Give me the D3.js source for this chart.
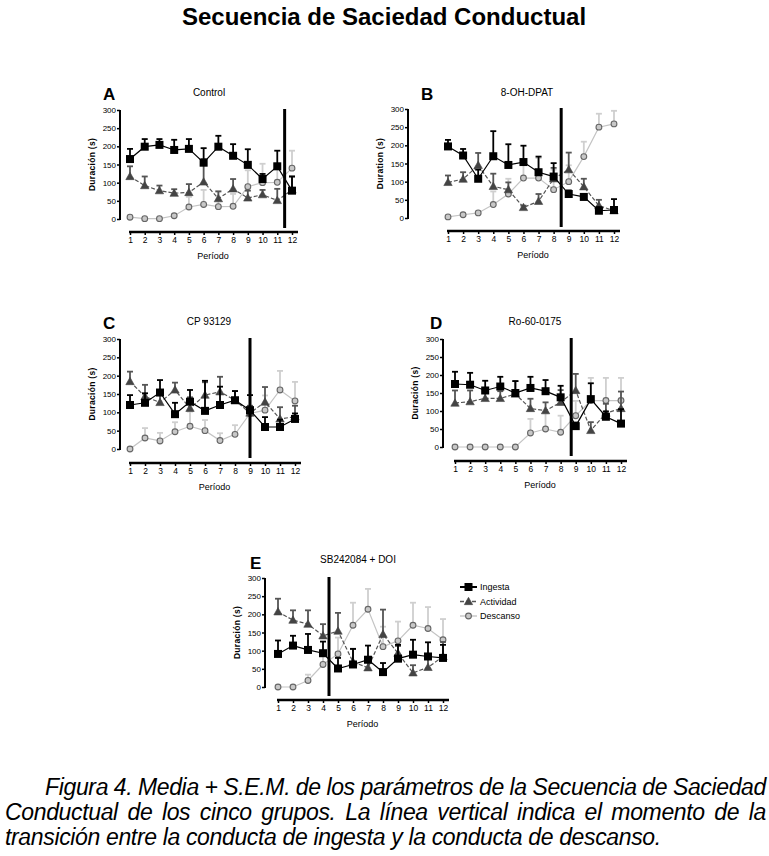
<!DOCTYPE html>
<html>
<head>
<meta charset="utf-8">
<script src="https://cdn.jsdelivr.net/npm/d3@7"></script>
<style>
  body { margin:0; background:#fff; }
  #wrap { position:relative; width:769px; height:856px; overflow:hidden; }
  svg { position:absolute; left:0; top:0; }
  .cap { position:absolute; font-family:"Liberation Sans Narrow","Arial Narrow","Liberation Sans",sans-serif; font-style:italic; font-size:23px; letter-spacing:-0.35px; line-height:25px; color:#000; white-space:nowrap; }
</style>
</head>
<body>
<div id="wrap"></div>
<script>
// ---------- DATA ----------
const periods = [1,2,3,4,5,6,7,8,9,10,11,12];
const seriesNames = ["Ingesta","Actividad","Descanso"];
const yTicks = [0,50,100,150,200,250,300];
const panelLetters = ["A","B","C","D","E"];
const panelTitles = ["Control","8-OH-DPAT","CP 93129","Ro-60-0175","SB242084 + DOI"];
const yLabels = ["Duración (s)","Duration (s)","Duración (s)","Duración (s)","Duración (s)"];
const transitionPeriod = [11.5, 8.5, 9, 8.7, 4.4];

// Panel A - Control
const ingestaA      = [165,199,204,190,193,155,199,174,149,110,145,78];
const ingestaSemA   = [28,21,16,28,27,40,30,32,43,14,43,39];
const actividadA    = [117,92,78,71,73,102,56,83,58,67,51,80];
const actividadSemA = [28,25,14,11,23,63,20,27,20,13,32,37];
const descansoA     = [5,1,1,9,33,40,34,35,89,100,101,140];
const descansoSemA  = [0,0,0,3,28,40,42,34,45,52,52,48];
// Panel B - 8-OH-DPAT
const ingestaB      = [197,172,108,170,146,154,126,114,66,58,20,22];
const ingestaSemB   = [18,18,25,69,57,45,43,37,10,8,10,30];
const actividadB    = [98,107,145,87,78,29,46,108,133,86,34,20];
const actividadSemB = [19,19,34,35,20,5,20,30,47,22,16,10];
const descansoB     = [3,9,14,37,66,110,110,78,100,169,250,259];
const descansoSemB  = [0,0,0,36,42,45,55,55,45,41,37,36];
// Panel C - CP 93129
const ingestaC      = [120,126,154,95,129,104,120,133,106,60,60,82];
const ingestaSemC   = [27,26,34,31,32,82,50,25,41,27,20,15];
const actividadC    = [184,143,127,161,111,147,156,133,98,128,82,88];
const actividadSemC = [27,32,25,20,30,35,41,25,20,41,32,30];
const descansoC     = [0,30,22,47,62,50,23,40,97,106,161,131];
const descansoSemC  = [0,27,22,26,40,29,20,25,20,40,52,52];
// Panel D - Ro-60-0175
const ingestaD      = [175,173,157,168,150,164,155,138,58,133,84,65];
const ingestaSemD   = [34,33,27,27,33,31,31,32,10,44,15,40];
const actividadD    = [122,126,135,135,147,107,101,124,157,46,94,107];
const actividadSemD = [35,31,20,20,36,27,23,34,46,23,26,47];
const descansoD     = [0,0,0,0,0,39,50,41,87,129,129,129];
const descansoSemD  = [0,0,0,0,0,39,44,46,41,63,63,63];
// Panel E - SB242084 + DOI
const ingestaE      = [91,114,102,93,51,62,75,41,78,89,84,80];
const ingestaSemE   = [37,27,44,32,29,43,39,25,38,41,39,36];
const actividadE    = [207,184,173,141,154,69,53,145,93,39,54,84];
const actividadSemE = [36,27,38,32,50,36,30,68,20,21,26,40];
const descansoE     = [0,0,18,62,91,170,214,111,127,170,161,130];
const descansoSemE  = [0,0,16,30,45,62,56,55,53,62,59,57];

const captionLines = [
  "Figura 4. Media + S.E.M. de los parámetros de la Secuencia de Saciedad",
  "Conductual de los cinco grupos. La línea vertical indica el momento de la",
  "transición entre la conducta de ingesta y la conducta de descanso."
];

// ---------- LAYOUT ----------
const layout = [
  {yAxisX:120, yTop:110, yBot:219, x1:130, x12:292, xAxisY:232, letterX:103, letterY:100, titleX:209, titleY:96},
  {yAxisX:408, yTop:109, yBot:218, x1:448, x12:614, xAxisY:231, letterX:421, letterY:100, titleX:527, titleY:96},
  {yAxisX:120, yTop:339, yBot:449, x1:130, x12:295, xAxisY:463, letterX:103, letterY:329, titleX:209, titleY:325},
  {yAxisX:443, yTop:339, yBot:447, x1:455, x12:621, xAxisY:461, letterX:430, letterY:329, titleX:535, titleY:325},
  {yAxisX:265, yTop:578, yBot:687, x1:278, x12:443, xAxisY:700, letterX:250, letterY:569, titleX:358, titleY:563}
];
const panelData = [
  [[ingestaA,ingestaSemA],[actividadA,actividadSemA],[descansoA,descansoSemA]],
  [[ingestaB,ingestaSemB],[actividadB,actividadSemB],[descansoB,descansoSemB]],
  [[ingestaC,ingestaSemC],[actividadC,actividadSemC],[descansoC,descansoSemC]],
  [[ingestaD,ingestaSemD],[actividadD,actividadSemD],[descansoD,descansoSemD]],
  [[ingestaE,ingestaSemE],[actividadE,actividadSemE],[descansoE,descansoSemE]]
];
const styles = {
  Ingesta:   {line:"#000", dash:null,  err:"#000",    marker:"square",   fill:"#000",  stroke:"#000"},
  Actividad: {line:"#555", dash:"4,2", err:"#555",    marker:"triangle", fill:"#444",  stroke:"#444"},
  Descanso:  {line:"#c4c4c4", dash:null, err:"#cfcfcf", marker:"circle", fill:"#c8c8c8", stroke:"#666"}
};
const FONT = "'Liberation Sans', Arial, sans-serif";

const wrap = d3.select("#wrap");
const svg = wrap.append("svg").attr("width",769).attr("height",856);

svg.append("text").attr("x",384).attr("y",25).attr("text-anchor","middle")
  .attr("font-family",FONT).attr("font-weight","bold").attr("font-size",24)
  .text("Secuencia de Saciedad Conductual");

function drawMarker(g, type, x, y, st){
  if(type==="square"){
    g.append("rect").attr("x",x-4).attr("y",y-4).attr("width",8).attr("height",8).attr("fill",st.fill);
  } else if(type==="triangle"){
    const s=4.2;
    g.append("path").attr("d",`M${x},${y-s}L${x+s},${y+s*0.75}L${x-s},${y+s*0.75}Z`).attr("fill",st.fill).attr("stroke",st.stroke).attr("stroke-width",0.6);
  } else {
    g.append("circle").attr("cx",x).attr("cy",y).attr("r",2.9).attr("fill",st.fill).attr("stroke",st.stroke).attr("stroke-width",1.1);
  }
}

layout.forEach((L,i)=>{
  const g = svg.append("g");
  const x = d3.scaleLinear().domain([1,12]).range([L.x1,L.x12]);
  const y = d3.scaleLinear().domain([0,300]).range([L.yBot,L.yTop]);

  const ya = g.append("g").attr("transform",`translate(${L.yAxisX},0)`)
    .call(d3.axisLeft(y).tickValues(yTicks).tickSize(3).tickPadding(1).tickFormat(d3.format("d")));
  ya.select(".domain").attr("stroke-width",2).attr("d",`M0,${L.yTop}V${L.yBot+1}`);
  ya.selectAll(".tick line").attr("stroke-width",1.5);
  ya.selectAll(".tick text").attr("font-family",FONT).attr("font-size",8);

  const xa = g.append("g").attr("transform",`translate(0,${L.xAxisY})`)
    .call(d3.axisBottom(x).tickValues(periods).tickSize(3).tickPadding(2).tickFormat(d3.format("d")));
  xa.select(".domain").attr("stroke-width",2.6).attr("d",`M${L.x1-1},0H${L.x12+6}`);
  xa.selectAll(".tick line").attr("stroke-width",1.5);
  xa.selectAll(".tick text").attr("font-family",FONT).attr("font-size",8.5);

  g.append("text").attr("x",(L.x1+L.x12)/2+2).attr("y",L.xAxisY+27).attr("text-anchor","middle")
    .attr("font-family",FONT).attr("font-size",9).text("Período");
  g.append("text").attr("transform",`translate(${L.yAxisX-25},${(L.yTop+L.yBot)/2}) rotate(-90)`)
    .attr("text-anchor","middle").attr("font-family",FONT).attr("font-weight","bold").attr("font-size",8.5)
    .attr("letter-spacing",0.3).text(yLabels[i]);
  g.append("text").attr("x",L.letterX).attr("y",L.letterY).attr("font-family",FONT).attr("font-weight","bold")
    .attr("font-size",17).text(panelLetters[i]);
  g.append("text").attr("x",L.titleX).attr("y",L.titleY).attr("text-anchor","middle")
    .attr("font-family",FONT).attr("font-size",10).text(panelTitles[i]);

  [2,1,0].forEach(si=>{
    const name = seriesNames[si];
    const st = styles[name];
    const [vals, sems] = panelData[i][si];
    const sg = g.append("g");
    vals.forEach((v,k)=>{
      if(sems[k]<=0) return;
      const px=x(periods[k]), y0=y(v), y1=y(v+sems[k]);
      sg.append("line").attr("x1",px).attr("x2",px).attr("y1",y0).attr("y2",y1).attr("stroke",st.err).attr("stroke-width",1.8);
      sg.append("line").attr("x1",px-3).attr("x2",px+3).attr("y1",y1).attr("y2",y1).attr("stroke",st.err).attr("stroke-width",1.8);
    });
    const line = d3.line().x((d,k)=>x(periods[k])).y(d=>y(d));
    sg.append("path").attr("d",line(vals)).attr("fill","none").attr("stroke",st.line)
      .attr("stroke-width",1.2).attr("stroke-dasharray",st.dash);
    vals.forEach((v,k)=>drawMarker(sg, st.marker, x(periods[k]), y(v), st));
  });

  g.append("line").attr("x1",x(transitionPeriod[i])).attr("x2",x(transitionPeriod[i]))
    .attr("y1",L.yTop-1).attr("y2",L.yBot+9).attr("stroke","#000").attr("stroke-width",3);
});

// Legend (panel E)
const lg = svg.append("g");
seriesNames.forEach((name,k)=>{
  const st = styles[name];
  const ly = 587 + k*14.5;
  lg.append("line").attr("x1",460).attr("x2",477).attr("y1",ly).attr("y2",ly).attr("stroke",st.line)
    .attr("stroke-width",name==="Ingesta"?2:1.4).attr("stroke-dasharray",st.dash);
  drawMarker(lg, st.marker, 468.5, ly, st);
  lg.append("text").attr("x",480).attr("y",ly+3).attr("font-family",FONT).attr("font-size",9).text(name);
});

// Caption: justified by distributing extra space between words (no wrapping)
const capTops = [775, 800, 825];
const capLeft = [45, 5, 5];
const capRight = 766;
captionLines.forEach((t,k)=>{
  const d = wrap.append("div").attr("class","cap").style("top",capTops[k]+"px").style("left",capLeft[k]+"px").text(t);
  if(k<2){
    const w = d.node().getBoundingClientRect().width;
    const spaces = (t.match(/ /g)||[]).length;
    const extra = (capRight - capLeft[k]) - w;
    d.style("word-spacing", (extra/spaces) + "px");
  }
});
</script>
</body>
</html>
